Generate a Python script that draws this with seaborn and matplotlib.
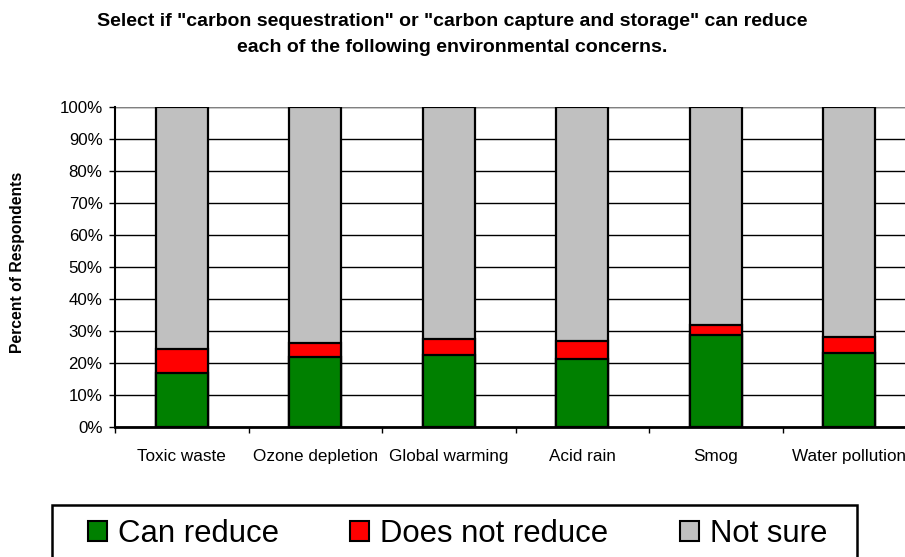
import numpy as np
import pandas as pd
import matplotlib
matplotlib.use('Agg')
import matplotlib.pyplot as plt
import seaborn as sns
from matplotlib.patches import Patch, Rectangle
from matplotlib.ticker import FixedLocator, PercentFormatter

# values (percent of respondents)
concerns = ['Toxic waste', 'Ozone depletion', 'Global warming', 'Acid rain', 'Smog', 'Water pollution']
can_reduce = [17.0, 22.0, 22.4, 21.2, 28.6, 23.1]
does_not_reduce = [7.4, 4.3, 5.1, 5.6, 3.3, 5.0]
not_sure = [75.6, 73.7, 72.5, 73.2, 68.1, 71.9]

series_names = ['Can reduce', 'Does not reduce', 'Not sure']
colors = ['#008000', '#ff0000', '#c0c0c0']

df = pd.DataFrame({'concern': concerns,
                   'Can reduce': can_reduce,
                   'Does not reduce': does_not_reduce,
                   'Not sure': not_sure})
# cumulative tops for stacking
df['top1'] = df['Can reduce']
df['top2'] = df['top1'] + df['Does not reduce']
df['top3'] = df['top2'] + df['Not sure']

sns.set_style('white')
plt.rcParams['font.family'] = ['Liberation Sans', 'DejaVu Sans']
plt.rcParams.update({'text.color': 'black', 'xtick.color': 'black',
                     'ytick.color': 'black', 'axes.labelcolor': 'black'})

W, H = 905, 557
fig = plt.figure(figsize=(W / 100, H / 100), dpi=100)
ax = fig.add_axes([115 / W, 1 - 427 / H, 801 / W, 320 / H])

for col, c in zip(['top3', 'top2', 'top1'], colors[::-1]):
    sns.barplot(data=df, x='concern', y=col, color=c, width=0.39,
                edgecolor='black', linewidth=1.6, saturation=1, ax=ax, zorder=3)

ax.set_ylim(0, 100)
ax.set_xlim(-0.5, len(concerns) - 0.5)
ax.yaxis.set_major_locator(FixedLocator(np.arange(0, 101, 10)))
ax.yaxis.set_major_formatter(PercentFormatter(decimals=0))
ax.yaxis.grid(True, color='black', linewidth=1)
ax.set_axisbelow(True)

ax.set_xticks(range(len(concerns)))
ax.set_xticklabels(concerns, fontsize=12.3)
ax.set_xticks(np.arange(-0.5, len(concerns), 1), minor=True)
ax.tick_params(axis='x', which='major', length=0, pad=16)
ax.tick_params(axis='x', which='minor', length=4, width=1, direction='out', bottom=True)
ax.tick_params(axis='y', length=4, width=1, direction='out', left=True,
               labelsize=12.2, pad=5)

ax.set_xlabel('')
ax.set_ylabel('')
for s in ['top', 'right']:
    ax.spines[s].set_visible(False)
ax.spines['left'].set_color('black')
ax.spines['left'].set_linewidth(1.5)
ax.spines['bottom'].set_color('black')
ax.spines['bottom'].set_linewidth(2)
ax.axhline(100, color='#808080', linewidth=1.5, zorder=2)

fig.text(18 / W, 1 - 262 / H, 'Percent of Respondents', rotation=90,
         ha='center', va='center', fontsize=11.3, fontweight='bold')

fig.text(0.5, 1 - 22 / H,
         'Select if "carbon sequestration" or "carbon capture and storage" can reduce',
         ha='center', va='center', fontsize=14, fontweight='bold')
fig.text(0.5, 1 - 47 / H, 'each of the following environmental concerns.',
         ha='center', va='center', fontsize=14, fontweight='bold')

# legend frame (runs past the bottom edge of the figure)
fig.patches.append(Rectangle((52 / W, -0.05), (857 - 52) / W, 0.05 + 1 - 505 / H,
                             transform=fig.transFigure, facecolor='none',
                             edgecolor='black', linewidth=1.8))

handles = [Patch(facecolor=c, edgecolor='black', linewidth=1.5) for c in colors]
leg = fig.legend(handles, series_names, loc='center left',
                 bbox_to_anchor=(88 / W, 1 - 534 / H), ncol=3,
                 fontsize=22.4, frameon=False, handlelength=0.6,
                 handleheight=0.6, handletextpad=0.36, columnspacing=2.3,
                 borderpad=0, borderaxespad=0)

fig.savefig('out.png', dpi=100)
